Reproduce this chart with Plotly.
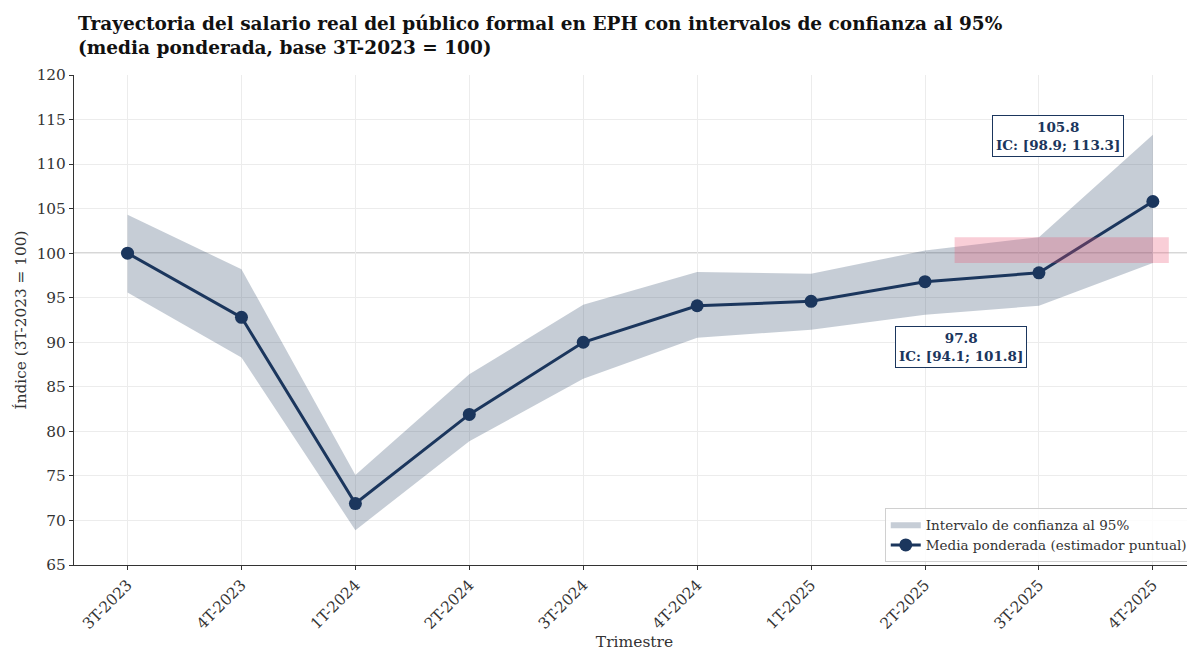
import plotly.graph_objects as go

trimestres = ["3T-2023", "4T-2023", "1T-2024", "2T-2024", "3T-2024",
              "4T-2024", "1T-2025", "2T-2025", "3T-2025", "4T-2025"]
media = [100.0, 92.8, 71.9, 81.9, 90.0, 94.1, 94.6, 96.8, 97.8, 105.8]
ic_inf = [95.6, 88.3, 68.9, 78.9, 85.9, 90.5, 91.4, 93.1, 94.1, 98.9]
ic_sup = [104.3, 98.2, 75.1, 86.4, 94.2, 97.9, 97.7, 100.3, 101.8, 113.3]

# zona de solapamiento destacada (índices de trimestre, valores de índice)
solap_x = [7.26, 9.14]
solap_y = [98.9, 101.8]

NAVY = "#1b365d"
FONT = "DejaVu Serif"

idx = list(range(len(trimestres)))

W, H = 1187, 643
ML, MR, MT, MB = 66, 0, 67, 86
PH = H - MT - MB

fig = go.Figure()

fig.add_trace(go.Scatter(
    x=idx, y=ic_inf, mode="lines", line=dict(width=0, color=NAVY),
    showlegend=False, hoverinfo="skip"))
fig.add_trace(go.Scatter(
    x=idx, y=ic_sup, mode="lines", line=dict(width=0, color=NAVY),
    fill="tonexty", fillcolor="rgba(27,54,93,0.25)",
    name="Intervalo de confianza al 95%"))
fig.add_trace(go.Scatter(
    x=idx, y=media, mode="lines+markers",
    line=dict(color=NAVY, width=3),
    marker=dict(color=NAVY, size=13),
    name="Media ponderada (estimador puntual)"))

# línea de base 100
fig.add_hline(y=100, line=dict(color="#b0b0b0", width=1.2), layer="below")

# rectángulo de solapamiento
fig.add_shape(type="rect", x0=solap_x[0], x1=solap_x[1], y0=solap_y[0], y1=solap_y[1],
              xref="x", yref="y", fillcolor="rgba(235,80,110,0.28)", line=dict(width=0),
              layer="above")

ann_font = dict(family=FONT, size=13.5, color=NAVY)
for i, dx, dy in [(9, -95, 66), (8, -78, -74)]:
    fig.add_annotation(
        x=i, y=media[i], xref="x", yref="y",
        text=f"<b>{media[i]:.1f}</b><br><b>IC: [{ic_inf[i]:.1f}; {ic_sup[i]:.1f}]</b>",
        showarrow=False, xshift=dx, yshift=dy, font=ann_font, align="center",
        bordercolor=NAVY, borderwidth=1, borderpad=3, bgcolor="white")

# título (dos líneas)
fig.add_annotation(
    text="<b>Trayectoria del salario real del público formal en EPH con intervalos de confianza al 95%</b><br><b>(media ponderada, base 3T-2023 = 100)</b>",
    xref="paper", yref="paper", x=2 / (W - ML - MR), y=1 + (MT - 3) / PH,
    xanchor="left", yanchor="top", align="left", showarrow=False,
    font=dict(family=FONT, size=18.5, color="#111111"))

fig.update_layout(
    width=W, height=H,
    margin=dict(l=ML, r=MR, t=MT, b=MB),
    paper_bgcolor="white", plot_bgcolor="white",
    font=dict(family=FONT, size=15, color="#333333"),
    legend=dict(
        x=0.998, y=0.006, xanchor="right", yanchor="bottom",
        bgcolor="rgba(255,255,255,0.85)", bordercolor="#d0d0d0", borderwidth=1,
        font=dict(family=FONT, size=13.5, color="#333333"),
        traceorder="normal", tracegroupgap=0),
    showlegend=True,
)

fig.update_xaxes(
    range=[-0.47, 9.37], tickmode="array", tickvals=idx, ticktext=trimestres,
    tickangle=-45, showgrid=True, gridcolor="#ececec", gridwidth=1,
    showline=True, linecolor="#333333", linewidth=1.2,
    ticks="outside", ticklen=4, tickcolor="#333333",
    tickfont=dict(family=FONT, size=15.3, color="#333333"),
    title=dict(text="Trimestre", standoff=7, font=dict(family=FONT, size=15.5)),
    automargin=False, zeroline=False)
fig.update_yaxes(
    range=[65, 120], tickmode="array", tickvals=list(range(65, 121, 5)),
    showgrid=True, gridcolor="#ececec", gridwidth=1,
    showline=True, linecolor="#333333", linewidth=1.2,
    ticks="outside", ticklen=4, tickcolor="#333333",
    tickfont=dict(family=FONT, size=15.3, color="#333333"),
    title=dict(text="Índice (3T-2023 = 100)", standoff=6, font=dict(family=FONT, size=15.3)),
    automargin=False, zeroline=False)

fig.write_html("out.html")
